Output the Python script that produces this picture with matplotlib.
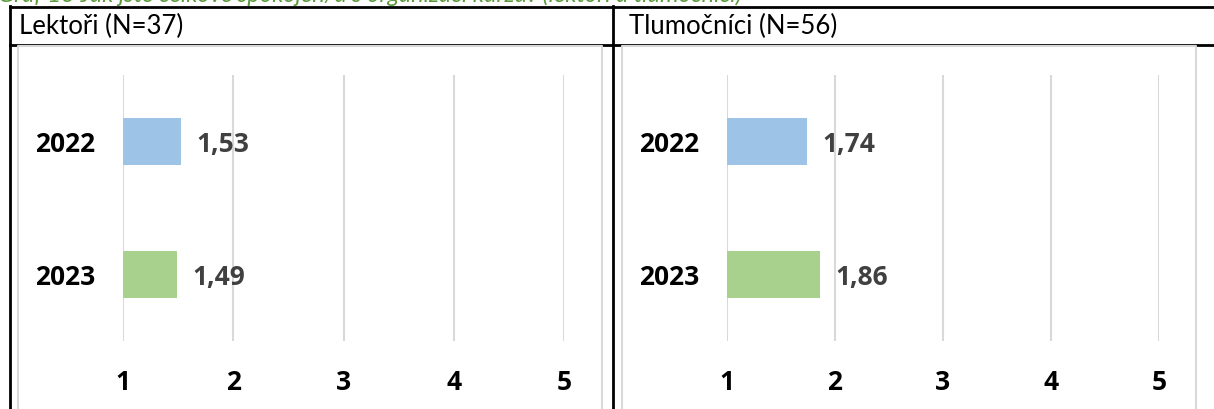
import matplotlib
matplotlib.use("Agg")
import matplotlib.pyplot as plt
from matplotlib.lines import Line2D

plt.rcParams['font.family'] = ['Lato', 'DejaVu Sans']

years = ["2022", "2023"]
lektori = [1.53, 1.49]
tlumocnici = [1.74, 1.86]
titles = ["Lektoři (N=37)", "Tlumočníci (N=56)"]
bar_colors = ["#9DC3E6", "#A9D18E"]
ticks = [1, 2, 3, 4, 5]
caption = "Graf 13 Jak jste celkově spokojen/a s organizací kurzu? (lektoři a tlumočníci)"

W, H = 1214, 409
fig = plt.figure(figsize=(W / 100, H / 100), dpi=100)
bold = dict(family=["Open Sans", "DejaVu Sans"], fontweight="bold", fontsize=19)


def px(x0, y0, x1, y1):
    # pixel box (top-left origin) -> figure fraction rect
    return [x0 / W, 1 - y1 / H, (x1 - x0) / W, (y1 - y0) / H]


def fline(xs, ys, **kw):
    fig.add_artist(Line2D([x / W for x in xs], [1 - y / H for y in ys],
                          transform=fig.transFigure, **kw))


# caption, clipped at the top like the source
fig.text(-2 / W, 1 - 1.5 / H, caption, color="#5B9A3C", fontsize=17,
         style="italic", va="baseline", ha="left")

# table borders
fline([10, W], [6.5, 6.5], color="black", lw=2)
fline([10, W], [44.5, 44.5], color="black", lw=2)
fline([10, 10], [6, H], color="black", lw=2)
fline([613, 613], [6, H], color="black", lw=2)

# inner chart frames
for x0, x1 in [(18, 602), (622, 1196)]:
    fline([x0, x0, x1, x1], [H + 5, 46, 46, H + 5], color="#D9D9D9", lw=1.5)

fig.text(19 / W, 1 - 26 / H, titles[0], fontsize=18.5, va="center", ha="left")
fig.text(629 / W, 1 - 26 / H, titles[1], fontsize=18.5, va="center", ha="left")

panels = [(lektori, (123, 75, 564, 341)), (tlumocnici, (727, 75, 1159, 341))]

for vals, box in panels:
    ax = fig.add_axes(px(*box))
    ypos = list(range(len(years)))
    ax.barh(ypos, vals, height=0.35, color=bar_colors, zorder=3)
    ax.set_xlim(1, 5)
    ax.set_ylim(1.5, -0.5)
    for s in ax.spines.values():
        s.set_visible(False)
    ax.set_xticks(ticks)
    ax.set_xticklabels([str(t) for t in ticks], **bold)
    ax.set_yticks(ypos)
    ax.set_yticklabels(years, **bold)
    for lab in ax.get_yticklabels():
        lab.set_va("center_baseline")
    ax.tick_params(axis="x", length=0, pad=20)
    ax.tick_params(axis="y", length=0, pad=20)
    ax.grid(axis="x", color="#D9D9D9", lw=1.5, zorder=0)
    ax.set_axisbelow(True)
    for y, v in zip(ypos, vals):
        ax.annotate(f"{v:.2f}".replace(".", ","), (v, y), xytext=(11, 0),
                    textcoords="offset points", va="center_baseline", ha="left",
                    color="#404040", **bold)

fig.savefig("out.png", dpi=100)
